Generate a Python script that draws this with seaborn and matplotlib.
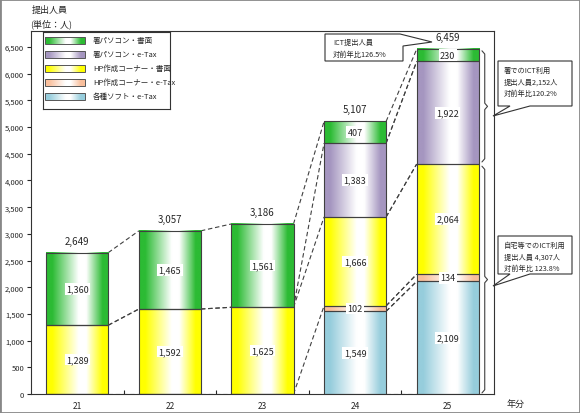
import numpy as np
import matplotlib
matplotlib.use("Agg")
import matplotlib.pyplot as plt
from matplotlib.colors import LinearSegmentedColormap
from matplotlib.patches import Polygon, Rectangle
import seaborn as sns

# data (bottom -> top of each stacked bar)
years = ["21", "22", "23", "24", "25"]
layer_names = ["各種ソフト・e-Tax", "HP作成コーナー・e-Tax", "HP作成コーナー・書面",
               "署パソコン・e-Tax", "署パソコン・書面"]
soft_etax = [0, 0, 0, 1549, 2109]
hp_etax = [0, 0, 0, 102, 134]
hp_paper = [1289, 1592, 1625, 1666, 2064]
office_etax = [0, 0, 0, 1383, 1922]
office_paper = [1360, 1465, 1561, 407, 230]
totals = [2649, 3057, 3186, 5107, 6459]
layers = [soft_etax, hp_etax, hp_paper, office_etax, office_paper]
layer_colors = ["#96cddc", "#f9bf9c", "#ffff00", "#a596c0", "#2cbb34"]

sns.set_style("white")
plt.rcParams["font.family"] = ["Noto Sans CJK JP", "DejaVu Sans"]

W, H = 580, 414
fig = plt.figure(figsize=(W / 100, H / 100), dpi=100)
ax = fig.add_axes([31 / W, 1 - 395 / H, 463 / W, 363 / H])

bar_w = 0.67


def grad_cmap(c):
    return LinearSegmentedColormap.from_list(
        "g", [(0, c), (0.1, c), (0.52, "white"), (0.64, "white"), (0.9, c), (1, c)])


grad = np.linspace(0, 1, 256)[np.newaxis, :]

bottom = np.zeros(len(years))
for vals, col in zip(layers, layer_colors):
    sns.barplot(x=years, y=vals, order=years, color=col, width=bar_w, bottom=bottom.copy(),
                errorbar=None, saturation=1, edgecolor="#404040", linewidth=0.8, ax=ax)
    cm = grad_cmap(col)
    for i, p in enumerate(ax.containers[-1]):
        p.set_facecolor("none")
        p.set_zorder(3)
        if vals[i] > 0:
            x0, y0 = p.get_x(), p.get_y()
            ax.imshow(grad, cmap=cm, extent=(x0, x0 + p.get_width(), y0, y0 + p.get_height()),
                      aspect="auto", interpolation="bilinear", zorder=2)
            ax.text(i, bottom[i] + vals[i] / 2, f"{vals[i]:,}", ha="center", va="center",
                    fontsize=6.5, zorder=5,
                    bbox=dict(boxstyle="square,pad=0.15", fc="white", ec="none"))
    bottom += np.array(vals)

# totals above bars
for i, t in enumerate(totals):
    ax.annotate(f"{t:,}", (i, t), xytext=(0, 5), textcoords="offset points",
                ha="center", va="bottom", fontsize=7)

# dashed connectors between bars
cum = np.vstack([np.zeros(len(years)), np.cumsum(layers, axis=0)])
for i in range(len(years) - 1):
    for k in range(len(layers)):
        if layers[k][i] > 0 and layers[k][i + 1] > 0:
            for lvl in (k, k + 1):
                ax.plot([i + bar_w / 2, i + 1 - bar_w / 2], [cum[lvl][i], cum[lvl][i + 1]],
                        color="#404040", lw=0.8, ls=(0, (4, 2.5)), zorder=1)

# curly braces beside the last bar
def brace(y_lo, y_hi, x0=4.37, d=0.03):
    mid = (y_lo + y_hi) / 2
    s = 60
    ax.plot([x0, x0 + d, x0 + d, x0 + 2 * d, x0 + d, x0 + d, x0],
            [y_hi, y_hi - s, mid + s, mid, mid - s, y_lo + s, y_lo],
            color="#404040", lw=0.8, clip_on=False, zorder=4)


brace(cum[3][4] + 40, totals[4] - 30)
brace(20, cum[3][4] - 40)

ax.set_xlim(-0.5, 4.5)
ax.set_ylim(0, 6800)
ax.set_yticks(range(0, 6501, 500))
ax.set_yticklabels([f"{v:,}" for v in range(0, 6501, 500)])
ax.set_xticks([0.5, 1.5, 2.5, 3.5], minor=True)
ax.tick_params(axis="y", left=True, length=3, direction="out", labelsize=5.5, pad=2)
ax.tick_params(axis="x", which="major", length=0, labelsize=6, pad=5)
ax.tick_params(axis="x", which="minor", bottom=True, direction="in", length=3, width=0.8)
ax.set_xlabel("")
ax.set_ylabel("")
for s in ax.spines.values():
    s.set_color("#333333")
    s.set_linewidth(0.8)

# titles
fig.text(32 / W, 1 - 10 / H, "提出人員", fontsize=6.5, va="center")
fig.text(30 / W, 1 - 24 / H, "(単位：人)", fontsize=6.5, va="center")
fig.text(507 / W, 1 - 404 / H, "年分", fontsize=6.5, va="center")

# legend drawn as its own little axes
lax = fig.add_axes([43 / W, 1 - 110 / H, 127 / W, 77 / H])
lax.set_xticks([])
lax.set_yticks([])
for s in lax.spines.values():
    s.set_color("#333333")
    s.set_linewidth(0.8)
rows = [8, 22, 36, 50, 64]
for r, name, col in zip(rows, layer_names[::-1], layer_colors[::-1]):
    lax.imshow(grad, cmap=grad_cmap(col), extent=(2, 42, r + 3.5, r - 3.5),
               aspect="auto", interpolation="bilinear")
    lax.add_patch(Rectangle((2, r - 3.5), 40, 7, fill=False, ec="#555555", lw=0.7))
    lax.text(50, r, name, fontsize=5.4, va="center")
lax.set_xlim(0, 127)
lax.set_ylim(77, 0)


# callout boxes (pixel coordinates of the figure)
def callout(pts, lines, tx, ty):
    fig.add_artist(Polygon([(x / W, 1 - y / H) for x, y in pts], closed=True,
                           transform=fig.transFigure, fc="white", ec="#333333", lw=0.8))
    fig.text(tx / W, 1 - ty / H, "\n".join(lines), fontsize=5.2, va="top",
             linespacing=1.6)


callout([(325, 35), (400, 35), (432, 43), (403, 47), (403, 62), (325, 62)],
        ["ICT提出人員", "対前年比126.5%"], 333, 39)
callout([(498, 62), (572, 62), (572, 107), (530, 107), (493, 117), (510, 107), (498, 107)],
        ["署でのICT利用", "提出人員2,152人", "対前年比120.2%"], 504, 67)
callout([(498, 237), (572, 237), (572, 275), (530, 275), (493, 287), (510, 275), (498, 275)],
        ["自宅等でのICT利用", "提出人員 4,307人", "対前年比 123.8%"], 504, 242)

fig.add_artist(Rectangle((0, 0), 1, 1, transform=fig.transFigure, fill=False,
                         ec="#888888", lw=2))

fig.savefig("out.png", dpi=100)
